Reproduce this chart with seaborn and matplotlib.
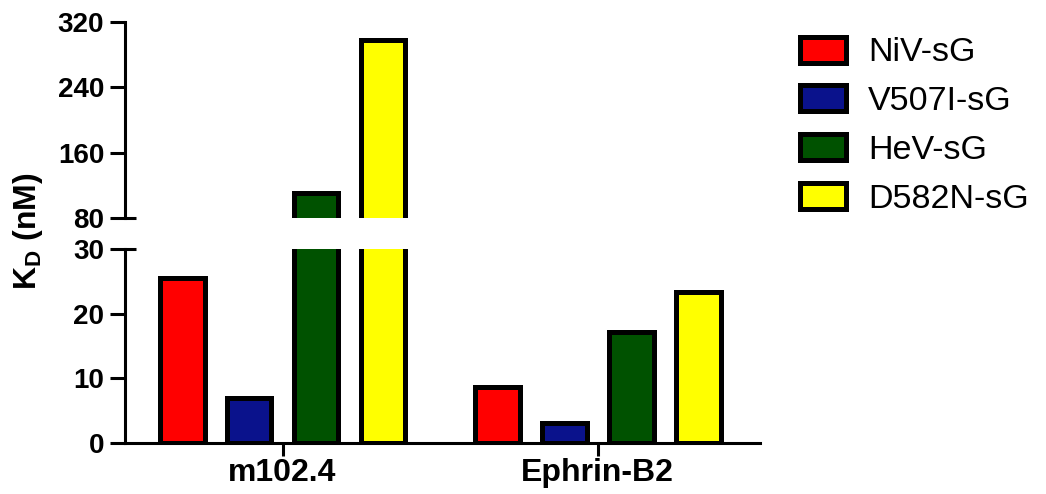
import pandas as pd
import seaborn as sns
import matplotlib.pyplot as plt
import matplotlib.transforms as mtransforms

# data (KD in nM)
groups = ['m102.4', 'Ephrin-B2']
proteins = ['NiV-sG', 'V507I-sG', 'HeV-sG', 'D582N-sG']
kd_m102 = [25.5, 7.0, 110, 298]
kd_ephrin = [8.6, 3.1, 17.1, 23.3]
colors = ['#ff0000', '#0a128c', '#005200', '#ffff00']

df = pd.DataFrame({
    'ligand': [groups[0]] * 4 + [groups[1]] * 4,
    'protein': proteins * 2,
    'kd': kd_m102 + kd_ephrin,
})

sns.set_style('white')
plt.rcParams['font.family'] = ['Liberation Sans', 'DejaVu Sans']
plt.rcParams['mathtext.fontset'] = 'custom'
plt.rcParams['mathtext.rm'] = 'Liberation Sans:bold'
plt.rcParams['mathtext.bf'] = 'Liberation Sans:bold'
for k in ['text.color', 'axes.edgecolor', 'axes.labelcolor', 'xtick.color', 'ytick.color']:
    plt.rcParams[k] = 'black'

fig = plt.figure(figsize=(10.46, 4.94), dpi=100)
left, width = 0.1195, 0.607
ax_top = fig.add_axes([left, 0.5587, width, 0.3968])
ax_low = fig.add_axes([left, 0.1032, width, 0.3928])

lw = 2.2
for ax in (ax_top, ax_low):
    sns.barplot(data=df, x='ligand', y='kd', hue='protein', palette=colors,
                width=0.85, gap=0.33, edgecolor='black', linewidth=3.6,
                saturation=1, ax=ax)
    ax.set_xlim(-0.5, 1.515)
    ax.set_xlabel('')
    ax.set_ylabel('')
    for s in ['top', 'right']:
        ax.spines[s].set_visible(False)
    ax.spines['left'].set_linewidth(lw)
    ax.spines['bottom'].set_linewidth(lw)
    ax.tick_params(axis='y', which='major', direction='out', length=11, width=lw,
                   labelsize=20, pad=4, left=True)

# upper part of the broken axis
ax_top.set_ylim(80, 320)
ax_top.set_yticks([80, 160, 240, 320])
ax_top.spines['bottom'].set_visible(False)
ax_top.set_xticks([])
ax_top.get_legend().remove()
for t in ax_top.get_yticklabels():
    t.set_fontweight('bold')

# lower part
ax_low.set_ylim(0, 30)
ax_low.set_yticks([0, 10, 20, 30])
ax_low.tick_params(axis='x', direction='out', length=9, width=lw, labelsize=23, pad=2, bottom=True)
for t in ax_low.get_xticklabels() + ax_low.get_yticklabels():
    t.set_fontweight('bold')

# little inward marks at the break (the ⊥ / T shapes)
for ax, yb in ((ax_top, 80), (ax_low, 30)):
    tr = mtransforms.blended_transform_factory(ax.transAxes, ax.transData)
    ax.plot([0, 0.018], [yb, yb], transform=tr, color='black', lw=lw,
            solid_capstyle='butt', clip_on=False)

handles = ax_low.get_legend().legend_handles
ax_low.get_legend().remove()
fig.legend(handles, proteins, loc='upper left', bbox_to_anchor=(0.765, 0.926),
           frameon=False, fontsize=24.5, handlelength=1.35, handleheight=0.8,
           handletextpad=0.65, labelspacing=0.5, borderpad=0, borderaxespad=0)

fig.text(0.027, 0.532, r'K$_{\mathrm{D}}$ (nM)', rotation=90, ha='center', va='center',
         fontsize=23, fontweight='bold')

fig.savefig('out.png', dpi=100)
